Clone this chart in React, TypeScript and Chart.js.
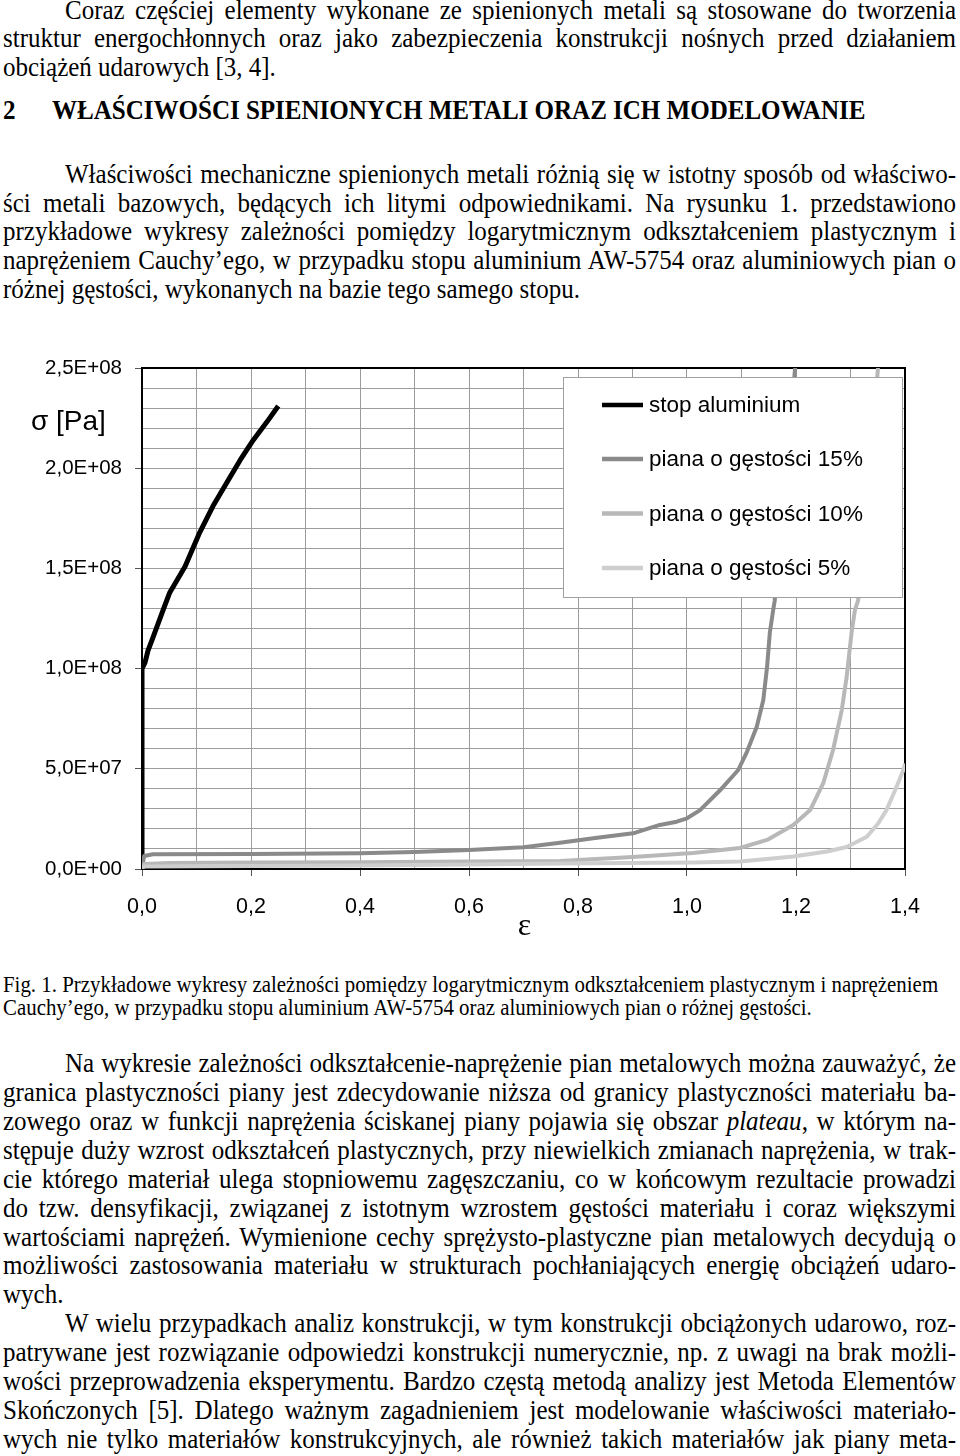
import React, { useEffect, useRef } from "react";
import { Chart, registerables } from "chart.js";

Chart.register(...registerables);

// ---------------- chart data ----------------
const seriesLabels = [
  "stop aluminium",
  "piana o gęstości 15%",
  "piana o gęstości 10%",
  "piana o gęstości 5%",
];
const seriesColors = ["#000000", "#8a8a8a", "#b8b8b8", "#cecece"];
const seriesWidths = [5, 4, 4, 4];

// strain ε [-] and stress σ [Pa]
const alStrain = [0, 0, 0.0055, 0.011, 0.018, 0.0385, 0.051, 0.079, 0.106, 0.13, 0.156, 0.18, 0.204, 0.229, 0.25];
const alStress = [0, 1.0e8, 1.03e8, 1.09e8, 1.14e8, 1.29e8, 1.38e8, 1.51e8, 1.68e8, 1.81e8, 1.93e8, 2.04e8, 2.14e8, 2.23e8, 2.31e8];

const f15Strain = [0, 0.004, 0.02, 0.2, 0.4, 0.5, 0.6, 0.7, 0.767, 0.828, 0.901, 0.95, 0.981, 1.0, 1.024, 1.061, 1.094, 1.11, 1.128, 1.14, 1.147, 1.152, 1.158, 1.161, 1.2];
const f15Stress = [0.5e6, 6.5e6, 7.4e6, 7.5e6, 7.8e6, 8.5e6, 9.5e6, 1.08e7, 1.31e7, 1.53e7, 1.78e7, 2.2e7, 2.36e7, 2.53e7, 2.94e7, 3.94e7, 4.94e7, 5.85e7, 7.1e7, 8.43e7, 1.01e8, 1.18e8, 1.29e8, 1.34e8, 2.55e8];

const f10Strain = [0, 0.004, 0.05, 0.2, 0.4, 0.6, 0.767, 0.9, 1.011, 1.097, 1.147, 1.195, 1.226, 1.25, 1.268, 1.284, 1.293, 1.302, 1.308, 1.314, 1.352];
const f10Stress = [0.5e6, 2.5e6, 3.0e6, 3.2e6, 3.4e6, 3.7e6, 4.0e6, 6.0e6, 8.0e6, 1.05e7, 1.45e7, 2.2e7, 2.94e7, 4.28e7, 5.94e7, 7.93e7, 9.6e7, 1.18e8, 1.29e8, 1.34e8, 2.55e8];

const f5Strain = [0, 0.004, 0.2, 0.4, 0.6, 0.767, 1.011, 1.097, 1.195, 1.257, 1.293, 1.33, 1.351, 1.366, 1.382, 1.397, 1.4];
const f5Stress = [0.3e6, 1.2e6, 1.5e6, 1.8e6, 2.2e6, 2.8e6, 3.2e6, 3.7e6, 6.2e6, 8.7e6, 1.1e7, 1.61e7, 2.28e7, 2.94e7, 3.94e7, 4.94e7, 5.27e7];

const xTickLabels = ["0,0", "0,2", "0,4", "0,6", "0,8", "1,0", "1,2", "1,4"];
const yTickLabels = ["0,0E+00", "5,0E+07", "1,0E+08", "1,5E+08", "2,0E+08", "2,5E+08"];
const yAxisTitle = "σ [Pa]";
const xAxisTitle = "ε";

// ---------------- page text ----------------
const p1Lines = [
  "Coraz częściej elementy wykonane ze spienionych metali są stosowane do tworzenia",
  "struktur energochłonnych oraz jako zabezpieczenia konstrukcji nośnych przed działaniem",
  "obciążeń udarowych [3, 4].",
];
const headingNumber = "2";
const headingText = "WŁAŚCIWOŚCI SPIENIONYCH METALI ORAZ ICH MODELOWANIE";
const p2Lines = [
  "Właściwości mechaniczne spienionych metali różnią się w istotny sposób od właściwo-",
  "ści metali bazowych, będących ich litymi odpowiednikami. Na rysunku 1. przedstawiono",
  "przykładowe wykresy zależności pomiędzy logarytmicznym odkształceniem plastycznym i",
  "naprężeniem Cauchy’ego, w przypadku stopu aluminium AW-5754 oraz aluminiowych pian o",
  "różnej gęstości, wykonanych na bazie tego samego stopu.",
];
const captionLines = [
  "Fig. 1. Przykładowe wykresy zależności pomiędzy logarytmicznym odkształceniem plastycznym i naprężeniem",
  "Cauchy’ego, w przypadku stopu aluminium AW-5754 oraz aluminiowych pian o różnej gęstości.",
];
const p3Lines = [
  "Na wykresie zależności odkształcenie-naprężenie pian metalowych można zauważyć, że",
  "granica plastyczności piany jest zdecydowanie niższa od granicy plastyczności materiału ba-",
  "zowego oraz w funkcji naprężenia ściskanej piany pojawia się obszar _plateau_, w którym na-",
  "stępuje duży wzrost odkształceń plastycznych, przy niewielkich zmianach naprężenia, w trak-",
  "cie którego materiał ulega stopniowemu zagęszczaniu, co w końcowym rezultacie prowadzi",
  "do tzw. densyfikacji, związanej z istotnym wzrostem gęstości materiału i coraz większymi",
  "wartościami naprężeń. Wymienione cechy sprężysto-plastyczne pian metalowych decydują o",
  "możliwości zastosowania materiału w strukturach pochłaniających energię obciążeń udaro-",
  "wych.",
  "W wielu przypadkach analiz konstrukcji, w tym konstrukcji obciążonych udarowo, roz-",
  "patrywane jest rozwiązanie odpowiedzi konstrukcji numerycznie, np. z uwagi na brak możli-",
  "wości przeprowadzenia eksperymentu. Bardzo częstą metodą analizy jest Metoda Elementów",
  "Skończonych [5]. Dlatego ważnym zagadnieniem jest modelowanie właściwości materiało-",
  "wych nie tylko materiałów konstrukcyjnych, ale również takich materiałów jak piany meta-",
];

const SERIF = '"Liberation Serif", "Times New Roman", serif';
const SANS = '"Liberation Sans", Arial, sans-serif';
const STRETCH = 1.1;

function renderRich(text: string) {
  const parts = text.split("_");
  return parts.map((p, i) => (i % 2 === 1 ? <i key={i}>{p}</i> : <span key={i}>{p}</span>));
}

type BlockOpts = {
  lines: string[];
  firstBaseline: number;
  spacing: number;
  fontSize: number;
  indentIdx: number[];
  leftIdx: number[];
  justify: boolean;
  keyPrefix: string;
};

function TextBlock(o: BlockOpts) {
  const left = 3;
  const width = 953;
  const indent = 62;
  const off = (o.spacing - 1.107 * o.fontSize) / 2 + 0.891 * o.fontSize;
  return (
    <>
      {o.lines.map((ln, i) => {
        const ind = o.indentIdx.includes(i) ? indent : 0;
        const just = o.justify && !o.leftIdx.includes(i);
        return (
          <div
            key={o.keyPrefix + i}
            style={{
              position: "absolute",
              left: left + ind,
              width: width - ind,
              top: o.firstBaseline + i * o.spacing - off,
              height: o.spacing,
              lineHeight: o.spacing + "px",
              fontSize: o.fontSize,
              whiteSpace: "nowrap",
              textAlign: just ? "justify" : "left",
              textAlignLast: just ? "justify" : "left",
              transform: `scaleY(${STRETCH})`,
              transformOrigin: `0 ${off}px`,
            } as React.CSSProperties}
          >
            {renderRich(ln)}
          </div>
        );
      })}
    </>
  );
}

function zip(xs: number[], ys: number[]) {
  return xs.map((x, i) => ({ x, y: ys[i] }));
}

export default function App() {
  const ref = useRef<HTMLCanvasElement>(null);

  useEffect(() => {
    const canvas = ref.current;
    if (!canvas) return;

    const dataSets = [
      zip(alStrain, alStress),
      zip(f15Strain, f15Stress),
      zip(f10Strain, f10Stress),
      zip(f5Strain, f5Stress),
    ];

    const decor = {
      id: "decor",
      beforeDatasetsDraw(chart: any) {
        const { ctx, chartArea: a } = chart;
        ctx.save();
        ctx.strokeStyle = "#000";
        ctx.lineWidth = 2;
        ctx.strokeRect(a.left, a.top, a.right - a.left, a.bottom - a.top);
        ctx.restore();
      },
      afterDatasetsDraw(chart: any) {
        const { ctx, chartArea: a } = chart;
        const bx = a.left + 421;
        const by = a.top + 9;
        const bw = 339;
        const bh = 220;
        ctx.save();
        ctx.fillStyle = "#fff";
        ctx.fillRect(bx, by, bw, bh);
        ctx.strokeStyle = "#a0a0a0";
        ctx.lineWidth = 1;
        ctx.strokeRect(bx + 0.5, by + 0.5, bw, bh);
        const rows = [28, 82, 136.5, 191];
        chart.data.datasets.forEach((ds: any, i: number) => {
          const y = by + rows[i];
          ctx.strokeStyle = ds.borderColor;
          ctx.lineWidth = 4.5;
          ctx.beginPath();
          ctx.moveTo(bx + 39, y);
          ctx.lineTo(bx + 80, y);
          ctx.stroke();
          ctx.fillStyle = "#000";
          ctx.font = "22.5px " + SANS;
          ctx.textAlign = "left";
          ctx.textBaseline = "middle";
          ctx.fillText(ds.label, bx + 86, y + 1);
        });
        ctx.restore();
      },
      afterDraw(chart: any) {
        const { ctx, chartArea: a } = chart;
        ctx.save();
        ctx.fillStyle = "#000";
        ctx.textBaseline = "alphabetic";
        ctx.font = "28px " + SANS;
        ctx.textAlign = "left";
        ctx.fillText(yAxisTitle, 31, a.top + 62);
        ctx.font = "32px " + SERIF;
        ctx.textAlign = "center";
        ctx.fillText(xAxisTitle, (a.left + a.right) / 2 + 1, a.bottom + 66);
        ctx.restore();
      },
    };

    const chart = new Chart(canvas, {
      type: "scatter",
      data: {
        datasets: dataSets.map((d, i) => ({
          label: seriesLabels[i],
          data: d,
          showLine: true,
          borderColor: seriesColors[i],
          backgroundColor: seriesColors[i],
          borderWidth: seriesWidths[i],
          pointRadius: 0,
          pointHoverRadius: 0,
          tension: 0,
          fill: false,
          clip: 0,
          borderJoinStyle: "round",
          order: 4 - i,
        })),
      },
      options: {
        responsive: false,
        animation: false,
        devicePixelRatio: 1,
        events: [],
        layout: { padding: { top: 28, right: 55, left: 0, bottom: 0 } },
        plugins: {
          legend: { display: false },
          tooltip: { enabled: false },
          title: { display: false },
        },
        scales: {
          x: {
            type: "linear",
            min: 0,
            max: 1.4,
            afterFit: (s: any) => {
              s.height = 81;
            },
            ticks: {
              stepSize: 0.1,
              autoSkip: false,
              maxRotation: 0,
              minRotation: 0,
              padding: 18,
              color: "#000",
              font: { family: SANS, size: 21.5 },
              callback: (v: any) => {
                const k = Math.round(Number(v) * 10);
                return k % 2 === 0 ? xTickLabels[k / 2] : "";
              },
            },
            grid: {
              color: "#9c9c9c",
              lineWidth: 1,
              tickLength: 7,
              tickColor: (c: any) =>
                c.tick && Math.round(c.tick.value * 10) % 2 === 0 ? "#555" : "rgba(0,0,0,0)",
            },
            border: { color: "#000", width: 2 },
          },
          y: {
            type: "linear",
            min: 0,
            max: 2.5e8,
            afterFit: (s: any) => {
              s.width = 142;
            },
            ticks: {
              stepSize: 1e7,
              autoSkip: false,
              padding: 13,
              color: "#000",
              font: { family: SANS, size: 20.5 },
              callback: (v: any) => {
                const k = Math.round(Number(v) / 1e7);
                return k % 5 === 0 ? yTickLabels[k / 5] : "";
              },
            },
            grid: {
              color: "#9c9c9c",
              lineWidth: 1,
              tickLength: 7,
              tickColor: (c: any) =>
                c.tick && Math.round(c.tick.value / 1e7) % 5 === 0 ? "#555" : "rgba(0,0,0,0)",
            },
            border: { color: "#000", width: 2 },
          },
        },
      },
      plugins: [decor],
    } as any);

    return () => chart.destroy();
  }, []);

  const headSize = 25.1;
  const headOff = (28.6 - 1.107 * headSize) / 2 + 0.891 * headSize;

  return (
    <div
      style={{
        position: "absolute",
        left: 0,
        top: 0,
        width: 960,
        height: 1456,
        overflow: "hidden",
        background: "#fff",
        color: "#000",
        fontFamily: SERIF,
      }}
    >
      <TextBlock lines={p1Lines} firstBaseline={19.5} spacing={28.6} fontSize={25} indentIdx={[0]} leftIdx={[2]} justify keyPrefix="a" />
      <div
        style={{
          position: "absolute",
          left: 3,
          top: 120 - headOff,
          lineHeight: "28.6px",
          fontSize: headSize,
          fontWeight: "bold",
          whiteSpace: "nowrap",
          transform: `scaleY(${STRETCH})`,
          transformOrigin: `0 ${headOff}px`,
        }}
      >
        {headingNumber}
      </div>
      <div
        style={{
          position: "absolute",
          left: 52,
          top: 120 - headOff,
          lineHeight: "28.6px",
          fontSize: headSize,
          fontWeight: "bold",
          whiteSpace: "nowrap",
          letterSpacing: "-0.05px",
          transform: `scaleY(${STRETCH})`,
          transformOrigin: `0 ${headOff}px`,
        }}
      >
        {headingText}
      </div>
      <TextBlock lines={p2Lines} firstBaseline={184} spacing={28.6} fontSize={25} indentIdx={[0]} leftIdx={[4]} justify keyPrefix="b" />
      <canvas
        ref={ref}
        width={960}
        height={610}
        style={{ position: "absolute", left: 0, top: 340, width: 960, height: 610 }}
      />
      <TextBlock lines={captionLines} firstBaseline={992.5} spacing={23} fontSize={20.9} indentIdx={[]} leftIdx={[0, 1]} justify={false} keyPrefix="c" />
      <TextBlock lines={p3Lines} firstBaseline={1073} spacing={28.9} fontSize={25} indentIdx={[0, 9]} leftIdx={[8]} justify keyPrefix="d" />
    </div>
  );
}
